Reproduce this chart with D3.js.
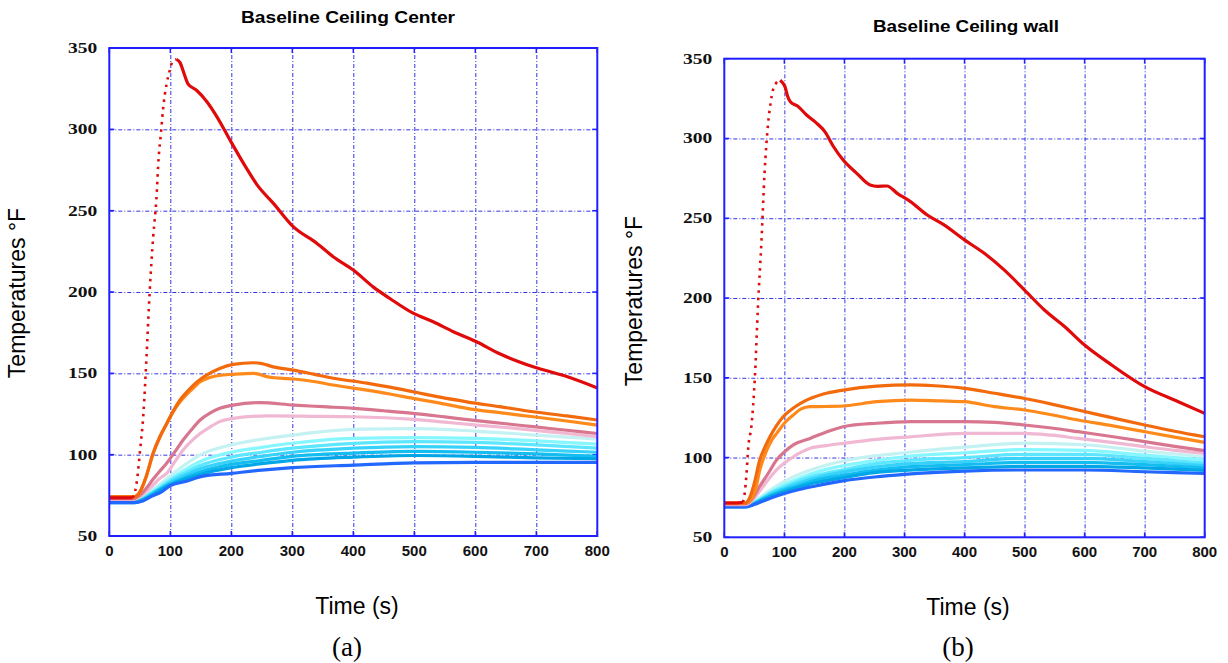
<!DOCTYPE html>
<html>
<head>
<meta charset="utf-8">
<script src="https://cdn.jsdelivr.net/npm/d3@7"></script>
<style>
  body { margin: 0; background: #fff; }
  svg { display: block; }
</style>
</head>
<body>
<svg id="chart" width="1228" height="663"></svg>
<script>
// ---------- axis ticks ----------
const xTicks = [0, 100, 200, 300, 400, 500, 600, 700, 800];
const yTicks = [50, 100, 150, 200, 250, 300, 350];

// ---------- (a) Baseline Ceiling Center : [time s, temperature °F] ----------
const centerTC1 = [[0,73.5],[20,73.5],[38,73.5],[42,77],[46,86],[50,101],[56,125.6],[61,160],[66,199],[72,234],[77,256],[81,283],[85,299],[88,312],[94,328],[99,336],[104,342],[110,343],[116,341],[121,336],[129,328],[143,324],[160,317],[176,308],[200,292],[225,276],[242,266],[269,254.5],[302,240],[340,230],[367,221.7],[400,213.5],[433,203],[460,196],[498,187],[531,181.7],[564,175.6],[602,169.4],[640,162],[695,154],[750,148],[800,141]];
const centerTC2 = [[0,74],[40,74],[50,77],[60,86],[72,101],[83,111],[94,119],[105,127],[116,133.6],[127,138.5],[138,142.8],[150,146.5],[160,149],[181,153],[203,155.5],[236,156.5],[250,156],[269,154],[302,152],[335,149.5],[367,147],[422,144],[460,141.5],[498,138.7],[540,135.5],[586,132.5],[640,129.5],[695,126.4],[750,123.8],[800,121.3]];
const centerTC3 = [[0,74],[40,74],[50,77],[60,86],[72,101],[83,111],[94,119],[105,126.5],[116,132.5],[127,137],[138,141],[149,144.8],[165,147.5],[180,148.7],[203,149.4],[236,150],[245,149.5],[258,148],[280,147],[302,146.5],[335,145],[367,142.8],[422,139.7],[460,137.3],[498,134.6],[540,131.8],[586,128.5],[640,125.8],[695,123.3],[750,120.7],[800,118.2]];
const centerTC4 = [[0,73],[40,73],[50,75],[60,79],[72,85],[83,90],[94,94.7],[108,102],[121,109],[135,115.5],[149,121.3],[165,125.5],[181,128.5],[203,130.5],[247,132],[302,130.5],[350,129.5],[400,128.5],[450,127],[498,125.4],[550,123.2],[602,120.9],[650,119],[695,117.2],[750,115],[800,113]];
const centerTC5 = [[0,72.5],[40,72.5],[50,74],[60,77],[72,81.5],[83,85.5],[94,88.5],[108,96],[121,102.9],[135,108.5],[149,113],[165,117],[181,120.3],[203,122.3],[258,123.8],[330,123.6],[400,123.3],[498,121.7],[550,120],[602,118.2],[650,116.7],[695,115],[750,113],[800,111]];
const centerTime = [0, 40, 55, 70, 85, 100, 125, 150, 200, 250, 300, 400, 500, 600, 700, 800];
const centerTC6  = [72, 72, 74, 78, 82.5, 87, 94, 100, 106, 109.5, 112, 115.5, 116, 114.5, 112, 109.5];
const centerTC7  = [71.5, 71.5, 73.5, 77, 81, 85, 91, 96, 101.5, 104.5, 107, 110, 110.5, 110, 108.5, 106.5];
const centerTC8  = [71.5, 71.5, 73, 76.5, 80, 84, 89, 93.5, 98.5, 101.5, 104, 107, 108, 107.5, 106, 104];
const centerTC9  = [71, 71, 72.5, 76, 79.5, 83, 87.5, 91.5, 96, 99, 101.5, 104, 105, 104.5, 103, 101.5];
const centerTC10 = [71, 71, 72.5, 75.5, 79, 82, 86, 89.5, 94, 96.5, 99, 101, 102, 101.5, 100.5, 99];
const centerTC11 = [70.5, 70.5, 72, 75, 78.5, 81.5, 85, 88, 92, 94.5, 96.5, 98.5, 99.5, 99, 98, 97.5];
const centerTC12 = [70.5, 70.5, 71.5, 74.5, 77, 81, 83.5, 86.5, 88.5, 90.5, 92, 93.6, 95, 95.3, 95.3, 95.3];

// ---------- (b) Baseline Ceiling wall : [time s, temperature °F] ----------
const wallTC1 = [[0,71.5],[20,71.5],[31,72],[34,77.6],[37,90],[40,106.8],[45,119.3],[51,150.7],[56,194.5],[62,236.4],[67,278],[73,309.5],[77,322],[81,330.4],[86,334.5],[90,336.2],[93,336.5],[97,335],[101,332.5],[105,327],[110,323],[123,320],[137,314.7],[154,309.5],[168,304],[182,294.8],[198,286.5],[221,278],[243,270.8],[255,270],[271,270.2],[288,265.6],[310,260.4],[338,252],[366,245.8],[400,236.4],[433,228],[466,217.6],[500,205],[533,192.5],[567,182],[600,170.5],[645,158],[700,144.4],[756,135],[800,127.7]];
const wallTC2 = [[0,71.5],[35,71.5],[43,75.5],[50,84],[59,98.5],[67,106],[76,113],[87,120],[98,125.6],[115,131],[132,135],[165,139.8],[198,142.3],[254,144.8],[310,145.5],[350,145],[400,143.4],[450,140.3],[500,137],[545,133.5],[589,129.8],[645,125],[700,120.4],[750,116.5],[800,113]];
const wallTC3 = [[0,71.5],[35,71.5],[45,74],[52,80],[59,92],[70,104],[80,111.5],[87,115],[100,121.5],[115,126.7],[128,130.5],[143,131.9],[170,132],[198,132.3],[254,135],[310,136],[360,135.5],[400,135],[450,131.9],[500,129.8],[545,126.8],[589,123.5],[645,120],[700,116.2],[750,112.8],[800,109.5]];
const wallTC4 = [[0,71],[35,71],[45,73.5],[59,82],[73,90],[87,98.5],[100,103.5],[115,107.9],[143,112],[170,116],[198,119.3],[254,121.5],[310,122.5],[400,122.5],[450,122],[500,120.4],[545,118.5],[589,116.2],[645,113.2],[700,110],[750,107],[800,104.3]];
const wallTC5 = [[0,70.5],[35,70.5],[45,72.5],[59,79],[73,86],[87,92.2],[100,96.5],[115,100.5],[143,105.8],[170,107.5],[198,108.9],[254,111.4],[310,113],[400,115.2],[500,115.2],[545,114],[589,112],[645,109.5],[700,106.8],[750,104.5],[800,102.6]];
const wallTime = [0, 35, 50, 65, 80, 100, 125, 150, 200, 250, 300, 400, 500, 600, 700, 800];
const wallTC6  = [70.5, 70.5, 72.5, 76.5, 80.5, 85, 89.5, 93, 98, 101, 103, 106.5, 109, 108, 104, 100.5];
const wallTC7  = [70, 70, 72, 75.5, 79, 83, 87, 90.5, 95, 98, 100.5, 103, 105, 104.5, 101.5, 98.5];
const wallTC8  = [70, 70, 71.5, 75, 78.5, 81.5, 85.5, 88.5, 92.5, 96, 98, 100, 102, 102, 99.5, 96.5];
const wallTC9  = [69.5, 69.5, 71.5, 74.5, 77.5, 80.5, 84, 87, 91, 94, 96, 97.5, 99.5, 99.5, 97.5, 95];
const wallTC10 = [69.5, 69.5, 71, 74, 76.5, 79.5, 82.5, 85.5, 89, 92, 94, 95.5, 97, 97, 95.5, 93.5];
const wallTC11 = [69, 69, 71, 73.5, 76, 78.5, 81.5, 84, 87.5, 90.5, 92, 93.5, 94.5, 94.5, 93.5, 92];
const wallTC12 = [69, 69, 70.5, 72.8, 75, 77.5, 80, 82, 85.5, 87.8, 89.5, 91.5, 92.2, 92.2, 91.1, 90];

// ---------- line colours, thermocouple 1..12 ----------
const tcColors = ["#e00a0a", "#f26a0c", "#ff8a1c", "#d9768f", "#f0b8d2",
                  "#c4f2f2", "#86f6ff", "#5ce6ff", "#36d2fa", "#14bdf0", "#00a6e6", "#2268ff"];

const zipSeries = (times, temps) => times.map((t, i) => [t, temps[i]]);

const centerSeries = [centerTC1, centerTC2, centerTC3, centerTC4, centerTC5,
  zipSeries(centerTime, centerTC6), zipSeries(centerTime, centerTC7), zipSeries(centerTime, centerTC8),
  zipSeries(centerTime, centerTC9), zipSeries(centerTime, centerTC10), zipSeries(centerTime, centerTC11),
  zipSeries(centerTime, centerTC12)];
const wallSeries = [wallTC1, wallTC2, wallTC3, wallTC4, wallTC5,
  zipSeries(wallTime, wallTC6), zipSeries(wallTime, wallTC7), zipSeries(wallTime, wallTC8),
  zipSeries(wallTime, wallTC9), zipSeries(wallTime, wallTC10), zipSeries(wallTime, wallTC11),
  zipSeries(wallTime, wallTC12)];

const svg = d3.select("#chart");
const FRAME = "#1f1fff";
const GRID = "#3434e4";

function drawPanel(p) {
  const x = d3.scaleLinear().domain([0, 800]).range([p.left, p.right]);
  const y = d3.scaleLinear().domain([50, 350]).range([p.bottom, p.top]);
  const g = svg.append("g");

  // grid
  g.append("g").attr("transform", `translate(0,${p.bottom})`)
    .call(d3.axisBottom(x).tickValues(xTicks.slice(1, -1)).tickSize(-(p.bottom - p.top)).tickFormat(""))
    .call(a => a.select(".domain").remove())
    .selectAll("line").attr("stroke", GRID).attr("stroke-width", 1).attr("stroke-dasharray", "4,2,1,2");
  g.append("g").attr("transform", `translate(${p.left},0)`)
    .call(d3.axisLeft(y).tickValues(yTicks.slice(1, -1)).tickSize(-(p.right - p.left)).tickFormat(""))
    .call(a => a.select(".domain").remove())
    .selectAll("line").attr("stroke", GRID).attr("stroke-width", 1).attr("stroke-dasharray", "4,2,1,2");

  // inward tick marks on all four sides
  const tk = 5;
  const ticks = g.append("g").attr("stroke", FRAME).attr("stroke-width", 1.5);
  ticks.selectAll(".tb").data(xTicks).join("line")
    .attr("x1", d => x(d)).attr("x2", d => x(d)).attr("y1", p.bottom).attr("y2", p.bottom - tk);
  ticks.selectAll(".tt").data(xTicks).join("line").attr("class", "tt")
    .attr("x1", d => x(d)).attr("x2", d => x(d)).attr("y1", p.top).attr("y2", p.top + tk);
  ticks.selectAll(".tl").data(yTicks).join("line").attr("class", "tl")
    .attr("y1", d => y(d)).attr("y2", d => y(d)).attr("x1", p.left).attr("x2", p.left + tk);
  ticks.selectAll(".tr").data(yTicks).join("line").attr("class", "tr")
    .attr("y1", d => y(d)).attr("y2", d => y(d)).attr("x1", p.right).attr("x2", p.right - tk);

  // temperature traces
  const line = d3.line().x(d => x(d[0])).y(d => y(d[1])).curve(d3.curveMonotoneX);
  const traces = g.append("g").attr("fill", "none").attr("stroke-linejoin", "round");
  const order = [5, 6, 7, 8, 9, 10, 11, 4, 3, 2, 1];
  order.forEach(i => {
    traces.append("path").datum(p.series[i])
      .attr("d", line).attr("stroke", tcColors[i]).attr("stroke-width", 3.2);
  });
  // TC1: fast rise drawn as sparse samples, then the decay as a solid trace
  const tc1 = p.series[0];
  const peak = d3.maxIndex(tc1, d => d[1]);
  const riseStart = tc1.findIndex(d => d[1] > tc1[0][1] + 1) - 1;
  traces.append("path").datum(tc1.slice(0, riseStart + 1))
    .attr("d", line).attr("stroke", tcColors[0]).attr("stroke-width", 3.2);
  traces.append("path").datum(tc1.slice(riseStart, peak + 1))
    .attr("d", line).attr("stroke", tcColors[0]).attr("stroke-width", 2.6)
    .attr("stroke-dasharray", "2.5,5");
  traces.append("path").datum(tc1.slice(peak))
    .attr("d", line).attr("stroke", tcColors[0]).attr("stroke-width", 3.2);

  // frame
  g.append("rect").attr("x", p.left).attr("y", p.top)
    .attr("width", p.right - p.left).attr("height", p.bottom - p.top)
    .attr("fill", "none").attr("stroke", FRAME).attr("stroke-width", 2);

  // tick labels
  g.append("g").selectAll("text").data(yTicks).join("text")
    .attr("transform", d => `translate(${p.left - 12},${y(d) + 5}) scale(1.3,1)`)
    .attr("text-anchor", "end")
    .style("font-family", "'Liberation Serif', 'Times New Roman', serif")
    .style("font-size", "15px").style("font-weight", "bold").attr("fill", "#111")
    .text(d => d);
  g.append("g").selectAll("text").data(xTicks).join("text")
    .attr("x", d => x(d)).attr("y", p.bottom + 20)
    .attr("text-anchor", "middle")
    .style("font-family", "'Liberation Sans', Arial, sans-serif")
    .style("font-size", "15px").style("font-weight", "bold").attr("fill", "#111")
    .text(d => d);

  // titles
  g.append("text").attr("x", p.titleX).attr("y", p.titleY)
    .attr("text-anchor", "middle")
    .style("font-family", "'Liberation Sans', Arial, sans-serif")
    .style("font-size", "16px").style("font-weight", "bold")
    .attr("textLength", p.titleLen).attr("lengthAdjust", "spacingAndGlyphs")
    .text(p.title);
  g.append("text")
    .attr("transform", `translate(${p.yLabelX},${p.yLabelY}) rotate(-90)`)
    .attr("text-anchor", "middle")
    .style("font-family", "'Liberation Sans', Arial, sans-serif")
    .style("font-size", "23px")
    .text("Temperatures °F");
  g.append("text").attr("x", p.xLabelX).attr("y", p.bottom + 78)
    .attr("text-anchor", "middle")
    .style("font-family", "'Liberation Sans', Arial, sans-serif")
    .style("font-size", "23px")
    .text("Time (s)");
  g.append("text").attr("x", p.xLabelX - 10).attr("y", 656)
    .attr("text-anchor", "middle")
    .style("font-family", "'Liberation Serif', 'Times New Roman', serif")
    .style("font-size", "27px")
    .text(p.caption);
}

drawPanel({
  left: 109.3, right: 597.3, top: 48, bottom: 536,
  series: centerSeries, title: "Baseline Ceiling Center", titleX: 348, titleY: 23, titleLen: 214,
  yLabelX: 25, yLabelY: 293, xLabelX: 357, caption: "(a)"
});
drawPanel({
  left: 724.3, right: 1204.7, top: 58.7, bottom: 537.3,
  series: wallSeries, title: "Baseline Ceiling wall", titleX: 966, titleY: 32, titleLen: 186,
  yLabelX: 642, yLabelY: 301, xLabelX: 968, caption: "(b)"
});
</script>
</body>
</html>
